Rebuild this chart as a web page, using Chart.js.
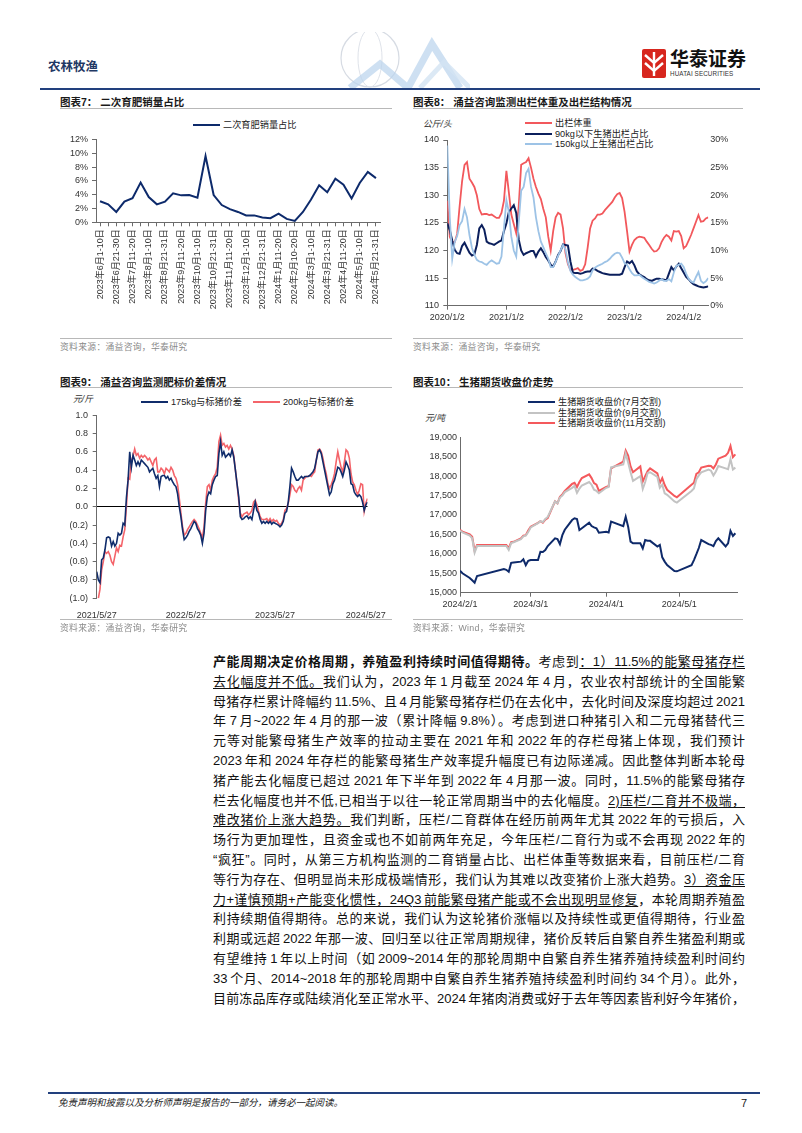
<!DOCTYPE html>
<html lang="zh-CN">
<head>
<meta charset="utf-8">
<title>农林牧渔</title>
<script src="https://cdn.jsdelivr.net/npm/chart.js@4.4.1/dist/chart.umd.min.js"></script>
<style>
  html, body { margin: 0; padding: 0; background: #fff; }
  #page { position: relative; width: 802px; height: 1133px; overflow: hidden;
          font-family: "Liberation Sans", "Noto Sans CJK SC", sans-serif; color: #1a1a1a; }
  .abs { position: absolute; white-space: nowrap; }
  .title { position: absolute; font-size: 10.5px; line-height: 12px; font-weight: 700; white-space: nowrap; }
  .rule { position: absolute; height: 1px; background: #b8b8b8; }
  .src { position: absolute; font-size: 8.8px; line-height: 10px; color: #8a8a8a; white-space: nowrap; letter-spacing: 0.3px; }
  .leg { position: absolute; font-size: 9.2px; line-height: 10px; white-space: nowrap; color: #222; }
  .leg i { display: inline-block; width: 27px; height: 2px; vertical-align: middle; margin: 0 3px 1px 0; }
  .unit { position: absolute; font-size: 8.8px; line-height: 10px; color: #333; white-space: nowrap; font-style: italic; }
  canvas { position: absolute; }
  #text { position: absolute; left: 213px; top: 652px; width: 532px; font-size: 13px; line-height: 19.8px;
          word-spacing: -1.5px; color: #111; }
  #text div { text-align: justify; text-align-last: justify; height: 19.8px; overflow: hidden; }
  #text u { text-decoration-thickness: 1px; text-underline-offset: 2px; }
</style>
</head>
<body>
<div id="page">
  <!-- 页眉 -->
  <svg class="abs" style="left:320px;top:32px" width="150" height="56">
    <circle cx="50" cy="26" r="29" fill="none" stroke="#d6dbe3" stroke-width="1.2"/>
    <ellipse cx="50" cy="26" rx="12" ry="29" fill="none" stroke="#dfe3ea" stroke-width="1"/>
    <polyline points="30,56 60,32 88,56 112,12 140,56" fill="none" stroke="#b9d3ec" stroke-width="7" opacity="0.7"/>
    <polyline points="100,56 124,30 150,56" fill="none" stroke="#d3e3f3" stroke-width="5" opacity="0.8"/>
  </svg>
  <div class="abs" style="left:48px;top:59px;font-size:12.5px;line-height:16px;font-weight:700;color:#1f3864">农林牧渔</div>
  <svg class="abs" style="left:642px;top:49px" width="24" height="29">
    <rect x="0" y="0" width="24" height="29" rx="2" fill="#d7261e"/>
    <path d="M3 6 L12 14 L21 6 M3 14 L12 22 L21 14" stroke="#fff" stroke-width="2.4" fill="none"/>
    <rect x="10.8" y="3" width="2.4" height="24" fill="#fff"/>
  </svg>
  <div class="abs" style="left:670px;top:47px;font-size:19px;line-height:22px;font-weight:700;color:#111;font-family:'Noto Sans CJK SC'">华泰证券</div>
  <div class="abs" style="left:670px;top:70px;font-size:6.3px;line-height:8px;color:#333;letter-spacing:0.1px">HUATAI SECURITIES</div>
  <div class="abs" style="left:40px;top:87.5px;width:720px;height:2px;background:#22407e"></div>

  <!-- 图表7 -->
  <div class="title" style="left:60px;top:95.7px">图表7：&nbsp;二次育肥销量占比</div>
  <div class="rule" style="left:60px;top:108px;width:332px"></div>
  <div class="leg" style="left:193px;top:120px"><i style="background:#0d2a6b"></i>二次育肥销量占比</div>
  <canvas id="c7" width="340" height="190" style="left:50px;top:130px"></canvas>
  <div class="rule" style="left:60px;top:338px;width:332px"></div>
  <div class="src" style="left:60px;top:341.7px">资料来源：涌益咨询，华泰研究</div>

  <!-- 图表8 -->
  <div class="title" style="left:413px;top:95.7px">图表8：&nbsp;涌益咨询监测出栏体重及出栏结构情况</div>
  <div class="rule" style="left:413px;top:108px;width:330px"></div>
  <div class="unit" style="left:423px;top:119px">公斤/头</div>
  <div class="leg" style="left:525px;top:118px"><i style="background:#f2585c"></i>出栏体重</div>
  <div class="leg" style="left:525px;top:128.5px"><i style="background:#0b1f5c"></i>90kg以下生猪出栏占比</div>
  <div class="leg" style="left:525px;top:139px"><i style="background:#9dc3e6"></i>150kg以上生猪出栏占比</div>
  <canvas id="c8" width="345" height="200" style="left:400px;top:130px"></canvas>
  <div class="rule" style="left:413px;top:338px;width:330px"></div>
  <div class="src" style="left:413px;top:341.7px">资料来源：涌益咨询，华泰研究</div>

  <!-- 图表9 -->
  <div class="title" style="left:60px;top:375.7px">图表9：&nbsp;涌益咨询监测肥标价差情况</div>
  <div class="rule" style="left:60px;top:387px;width:332px"></div>
  <div class="unit" style="left:73px;top:394px">元/斤</div>
  <div class="leg" style="left:141px;top:396.7px"><i style="background:#102c6b"></i>175kg与标猪价差</div>
  <div class="leg" style="left:253px;top:396.7px"><i style="background:#f4646a"></i>200kg与标猪价差</div>
  <canvas id="c9" width="340" height="215" style="left:50px;top:405px"></canvas>
  <div class="rule" style="left:60px;top:619px;width:332px"></div>
  <div class="src" style="left:60px;top:623px">资料来源：涌益咨询，华泰研究</div>

  <!-- 图表10 -->
  <div class="title" style="left:413px;top:375.7px">图表10：&nbsp;生猪期货收盘价走势</div>
  <div class="rule" style="left:413px;top:387px;width:330px"></div>
  <div class="leg" style="left:528px;top:397px"><i style="background:#0e2a6a"></i>生猪期货收盘价(7月交割)</div>
  <div class="leg" style="left:528px;top:407.7px"><i style="background:#c3c3c3"></i>生猪期货收盘价(9月交割)</div>
  <div class="leg" style="left:528px;top:418.3px"><i style="background:#f4595c"></i>生猪期货收盘价(11月交割)</div>
  <div class="unit" style="left:425px;top:413px">元/吨</div>
  <canvas id="c10" width="340" height="190" style="left:405px;top:428px"></canvas>
  <div class="rule" style="left:413px;top:619px;width:330px"></div>
  <div class="src" style="left:413px;top:623px">资料来源：Wind，华泰研究</div>

  <!-- 正文 -->
  <div id="text">
    <div><b>产能周期决定价格周期，养殖盈利持续时间值得期待。</b>考虑到<u>：1）11.5%的能繁母猪存栏</u></div>
    <div><u>去化幅度并不低。</u>我们认为，2023 年 1 月截至 2024 年 4 月，农业农村部统计的全国能繁</div>
    <div>母猪存栏累计降幅约 11.5%、且 4 月能繁母猪存栏仍在去化中，去化时间及深度均超过 2021</div>
    <div>年 7 月~2022 年 4 月的那一波（累计降幅 9.8%）。考虑到进口种猪引入和二元母猪替代三</div>
    <div>元等对能繁母猪生产效率的拉动主要在 2021 年和 2022 年的存栏母猪上体现，我们预计</div>
    <div>2023 年和 2024 年存栏的能繁母猪生产效率提升幅度已有边际递减。因此整体判断本轮母</div>
    <div>猪产能去化幅度已超过 2021 年下半年到 2022 年 4 月那一波。同时，11.5%的能繁母猪存</div>
    <div>栏去化幅度也并不低,已相当于以往一轮正常周期当中的去化幅度。<u>2)压栏/二育并不极端，</u></div>
    <div><u>难改猪价上涨大趋势。</u>我们判断，压栏/二育群体在经历前两年尤其 2022 年的亏损后，入</div>
    <div>场行为更加理性，且资金或也不如前两年充足，今年压栏/二育行为或不会再现 2022 年的</div>
    <div>“疯狂”。同时，从第三方机构监测的二育销量占比、出栏体重等数据来看，目前压栏/二育</div>
    <div>等行为存在、但明显尚未形成极端情形，我们认为其难以改变猪价上涨大趋势。<u>3）资金压</u></div>
    <div><u>力+谨慎预期+产能变化惯性，24Q3 前能繁母猪产能或不会出现明显修复</u>，本轮周期养殖盈</div>
    <div>利持续期值得期待。总的来说，我们认为这轮猪价涨幅以及持续性或更值得期待，行业盈</div>
    <div>利期或远超 2022 年那一波、回归至以往正常周期规律，猪价反转后自繁自养生猪盈利期或</div>
    <div>有望维持 1 年以上时间（如 2009~2014 年的那轮周期中自繁自养生猪养殖持续盈利时间约</div>
    <div>33 个月、2014~2018 年的那轮周期中自繁自养生猪养殖持续盈利时间约 34 个月）。此外，</div>
    <div>目前冻品库存或陆续消化至正常水平、2024 年猪肉消费或好于去年等因素皆利好今年猪价，</div>
  </div>

  <!-- 页脚 -->
  <div class="abs" style="left:48px;top:1092px;width:712px;height:2px;background:#22407e"></div>
  <div class="abs" style="left:58px;top:1097px;font-size:9.5px;line-height:12px;font-style:italic;color:#222">免责声明和披露以及分析师声明是报告的一部分，请务必一起阅读。</div>
  <div class="abs" style="left:741px;top:1096px;font-size:11px;line-height:14px;color:#222">7</div>
</div>

<script>
// 图表7：二次育肥销量占比（每旬）
const periods7 = ['2023年6月1-10日', '2023年6月11-20日', '2023年6月21-30日', '2023年7月1-10日', '2023年7月11-20日',
  '2023年7月21-31日', '2023年8月1-10日', '2023年8月11-20日', '2023年8月21-31日', '2023年9月1-10日', '2023年9月11-20日',
  '2023年9月21-30日', '2023年10月1-10日', '2023年10月11-20日', '2023年10月21-31日', '2023年11月1-10日', '2023年11月11-20日',
  '2023年11月21-30日', '2023年12月1-10日', '2023年12月11-20日', '2023年12月21-31日', '2024年1月1-10日', '2024年1月11-20日',
  '2024年1月21-31日', '2024年2月10-20日', '2024年2月21-29日', '2024年3月1-10日', '2024年3月11-20日', '2024年3月21-31日',
  '2024年4月1-10日', '2024年4月11-20日', '2024年4月21-30日', '2024年5月1-10日', '2024年5月11-20日', '2024年5月21-31日'];
const share7 = [3.05, 2.6, 1.5, 3.0, 3.5, 5.75, 3.65, 2.6, 3.0, 4.2, 3.9, 3.95, 3.55, 9.6, 3.95, 2.5, 1.9, 1.5, 1.0, 1.0,
  0.7, 0.6, 1.25, 0.5, 0.2, 1.5, 3.3, 5.35, 4.35, 6.3, 5.45, 3.45, 5.7, 7.3, 6.4];

// 图表8：出栏体重(公斤/头)与出栏结构(%)，半月取样，自2020/1/2起
const yearTicks8 = ['2020/1/2', '2021/1/2', '2022/1/2', '2023/1/2', '2024/1/2'];
const weight8 = [129, 122.5, 121.5, 121.5, 123, 128, 132.5, 135.5, 136, 133,
  132.3, 131.5, 130, 127.5, 126.5, 126.6, 126.6, 126.4, 126.5, 126.2,
  125.9, 125.9, 126.8, 129, 134.4, 130.5, 126.5, 124.8, 123.1, 128,
  135.5, 135.8, 136, 136.7, 135, 133, 131.5, 130.3, 129.3, 127.5,
  126, 122.5, 120, 123.5, 126, 126.8, 126.5, 124, 119.5, 117.5,
  116.5, 116.5, 116.6, 116.8, 116.3, 116.5, 117.5, 120.5, 124, 125.4,
  125.8, 126.5, 126.5, 126.7, 127.3, 127.8, 128.3, 128.8, 129.6, 130.2,
  130.4, 129.5, 127, 123.5, 119.8, 121, 121.9, 122.3, 122.5, 122.4,
  122.3, 121.6, 121, 120.3, 119.8, 119.9, 120.4, 121.5, 122.3, 122.8,
  122.5, 121.8, 123.5, 123.4, 123.5, 122.6, 120.4, 120.8, 121.8, 122.8,
  124, 125.2, 126.4, 125.2, 125.3, 125.8, 126];
const below90 = [14.9, 13.7, 11.8, 10.1, 9.5, 9.4, 10.8, 11.4, 10.5, 9.6,
  9.1, 9.3, 11, 14, 14.6, 13.8, 11.6, 11.3, 11.2, 11.0,
  11.3, 11.6, 11.8, 13.5, 14.9, 17, 17.6, 18.2, 16.8, 12,
  10, 9.2, 9.5, 9.7, 9.9, 9.9, 8.9, 9.8, 10.4, 9.7,
  8.8, 8.2, 7.4, 7.1, 8.0, 9.2, 9.9, 11.1, 11.0, 10.9,
  8.0, 6.0, 5.9, 5.9, 5.8, 5.9, 6.1, 6.2, 6.2, 6.7,
  6.6, 6.3, 6.1, 5.9, 5.8, 5.7, 5.6, 5.6, 5.6, 5.6,
  5.6, 5.8, 7.0, 8.0, 7.7, 8.1, 7.3, 6.2, 5.7, 5.4,
  5.2, 4.8, 4.6, 4.5, 4.7, 4.9, 4.9, 4.8, 4.7, 4.6,
  5.8, 7.0, 6.4, 7.1, 7.6, 6.8, 6.0, 5.2, 4.8, 4.3,
  3.9, 3.7, 3.5, 3.4, 3.3, 3.4, 3.5];
const above150 = [29, 16, 8.5, 11.5, 12.6, 14.6, 15.3, 17.5, 16, 12.8,
  10.5, 9.2, 8.3, 8.0, 7.9, 7.6, 7.4, 7.9, 8.2, 7.9,
  7.6, 7.7, 8.9, 14, 19.1, 17, 12.5, 10, 8.9, 15,
  20.8, 21.5, 24, 24.8, 21.5, 19.6, 16, 13.5, 11.6, 10.6,
  9.5, 8.5, 7.0, 7.0, 8.0, 9.0, 10.0, 11.0, 10.2, 7.8,
  6.3, 5.6, 5.2, 4.9, 4.6, 4.6, 4.7, 4.9, 5.3, 6.4,
  6.9, 7.2, 7.4, 7.6, 7.9, 8.1, 8.5, 9.0, 9.4, 9.6,
  9.5, 8.7, 7.7, 7.4, 6.6, 5.9, 5.5, 5.5, 5.6, 5.2,
  4.9, 4.6, 4.3, 4.2, 4.0, 4.2, 4.5, 4.8, 4.5, 4.5,
  4.8, 4.4, 6.0, 7.2, 7.4, 7.6, 7.0, 5.8, 4.9, 4.4,
  4.2, 5.2, 6.1, 4.5, 4.1, 4.4, 5.0];

// 图表9：肥标价差(元/斤)，周度，自2021/5/27起
const dateTicks9 = ['2021/5/27', '2022/5/27', '2023/5/27', '2024/5/27'];
const spread175 = [-0.71, -0.80, -0.83, -0.58, -0.56, -0.47, -0.34, -0.33, -0.34, -0.43,
  -0.38, -0.43, -0.40, -0.29, -0.31, -0.29, -0.18, -0.20, 0.10, 0.29,
  0.60, 0.43, 0.56, 0.51, 0.45, 0.49, 0.45, 0.51, 0.49, 0.47,
  0.45, 0.43, 0.38, 0.40, 0.42, 0.36, 0.31, 0.34, 0.22, 0.33,
  0.34, 0.34, 0.31, 0.33, 0.29, 0.31, 0.27, 0.24, 0.22, 0.14,
  0.00, -0.11, -0.25, -0.36, -0.34, -0.31, -0.27, -0.24, -0.20, -0.16,
  -0.18, -0.24, -0.27, -0.31, -0.40, -0.29, -0.04, 0.11, 0.16, 0.14,
  0.24, 0.29, 0.33, 0.34, 0.58, 0.71, 0.56, 0.60, 0.54, 0.56,
  0.58, 0.55, 0.62, 0.54, 0.40, 0.25, 0.11, -0.11, -0.14, -0.13,
  -0.11, -0.10, -0.13, -0.11, -0.14, -0.04, 0.05, -0.04, -0.07, -0.14,
  -0.18, -0.16, -0.18, -0.16, -0.18, -0.16, -0.19, -0.17, -0.18, -0.19,
  -0.20, -0.22, -0.20, -0.16, -0.07, -0.05, 0.05, 0.22, 0.42, 0.38,
  0.33, 0.29, 0.29, 0.31, 0.33, 0.31, 0.33, 0.33, 0.33, 0.34,
  0.36, 0.38, 0.42, 0.51, 0.60, 0.62, 0.58, 0.49, 0.40, 0.31,
  0.22, 0.13, 0.16, 0.25, 0.29, 0.36, 0.43, 0.42, 0.38, 0.33,
  0.40, 0.49, 0.45, 0.40, 0.25, 0.24, 0.16, 0.13, 0.11, 0.13,
  0.11, 0.05, -0.04, 0.02, 0.05];
const spread200 = [null, -1.00, -0.90, -0.69, -0.60, -0.49, -0.51, -0.49, -0.53, -0.60,
  -0.63, -0.54, -0.45, -0.49, -0.42, -0.43, -0.33, -0.25, 0.00, 0.31,
  0.30, 0.50, 0.55, 0.63, 0.56, 0.58, 0.53, 0.56, 0.54, 0.56,
  0.54, 0.51, 0.53, 0.49, 0.45, 0.51, 0.53, 0.38, 0.38, 0.42,
  0.40, 0.36, 0.42, 0.40, 0.38, 0.43, 0.40, 0.34, 0.31, 0.24,
  0.09, -0.07, -0.22, -0.31, -0.29, -0.25, -0.22, -0.19, -0.16, -0.14,
  -0.16, -0.20, -0.24, -0.29, -0.34, -0.22, 0.04, 0.22, 0.24, 0.18,
  0.29, 0.33, 0.36, 0.43, 0.71, 0.78, 0.67, 0.69, 0.65, 0.67,
  0.63, 0.67, 0.63, 0.56, 0.40, 0.25, 0.07, -0.07, -0.11, -0.08,
  -0.07, -0.06, -0.09, -0.07, -0.04, 0.05, 0.07, 0.02, -0.05, -0.11,
  -0.14, -0.14, -0.14, -0.13, -0.16, -0.13, -0.16, -0.14, -0.16, -0.15,
  -0.18, -0.20, -0.18, -0.14, -0.04, -0.02, 0.04, 0.13, 0.24, 0.22,
  0.18, 0.16, 0.20, 0.22, 0.18, 0.29, 0.31, 0.33, 0.33, 0.34,
  0.33, 0.36, 0.38, 0.51, 0.62, 0.63, 0.60, 0.53, 0.43, 0.36,
  0.25, 0.20, 0.24, 0.29, 0.36, 0.49, 0.60, 0.51, 0.43, 0.38,
  0.49, 0.62, 0.60, 0.53, 0.36, 0.27, 0.24, 0.18, 0.13, 0.18,
  0.25, 0.24, -0.05, 0.04, 0.09];
const weekTickAt9 = [0, 54, 108, 163];

// 图表10：生猪期货收盘价(元/吨)，交易日
const tradeDates10 = ['2024-02-01', '2024-02-02', '2024-02-05', '2024-02-06', '2024-02-07', '2024-02-08', '2024-02-19',
  '2024-02-20', '2024-02-21', '2024-02-22', '2024-02-23', '2024-02-26', '2024-02-27', '2024-02-28', '2024-02-29',
  '2024-03-01', '2024-03-04', '2024-03-05', '2024-03-06', '2024-03-07', '2024-03-08', '2024-03-11', '2024-03-12',
  '2024-03-13', '2024-03-14', '2024-03-15', '2024-03-18', '2024-03-19', '2024-03-20', '2024-03-21', '2024-03-22',
  '2024-03-25', '2024-03-26', '2024-03-27', '2024-03-28', '2024-03-29',
  '2024-04-01', '2024-04-02', '2024-04-03', '2024-04-08', '2024-04-09', '2024-04-10', '2024-04-11', '2024-04-12',
  '2024-04-15', '2024-04-16', '2024-04-17', '2024-04-18', '2024-04-19', '2024-04-22', '2024-04-23', '2024-04-24',
  '2024-04-25', '2024-04-26', '2024-04-29', '2024-04-30',
  '2024-05-06', '2024-05-07', '2024-05-08', '2024-05-09', '2024-05-10', '2024-05-13', '2024-05-14', '2024-05-15',
  '2024-05-16', '2024-05-17', '2024-05-20', '2024-05-21', '2024-05-22', '2024-05-23', '2024-05-24'];
const lh2407 = [15565, 15500, 15380, 15320, 15260, 15430, 15610, 15590, 15540, 15770, 15780, 15800, 15860, 15710, 15820,
  15840, 15840, 16055, 16050, 16100, 16200, 16400, 16380, 16250, 16480, 16620, 16870, 16915, 16895, 16615, 16660,
  16800, 16715, 16680, 16660, 16545,
  16570, 16550, 16830, 16715, 16955, 16700, 16315, 16270, 16270, 16140, 16355, 16340, 16335, 16190, 16230, 15910,
  15800, 15710, 15560, 15550,
  15710, 15840, 15990, 16150, 16355, 16250, 16230, 16200, 16330, 16400, 16190, 16270, 16590, 16460, 16530];
const lh2409 = [16600, 16550, 16470, 16400, 16030, 16200, 16200, 16200, 16100, 16280, 16300, 16380, 16450, 16470, 16560,
  16680, 16790, 16840, 16820, 16900, 16950, 17350, 17300, 17450, 17500, 17590, 17700, 17750, 17570, 17680, 17760,
  17850, 17780, 17650, 17620, 17560,
  17700, 17720, 18230, 18300, 18580, 18350, 18100, 17880, 18000, 17670, 17850, 18080, 18100, 17980, 17700, 17780,
  17560, 17520, 17350, 17320,
  17620, 17680, 17920, 18020, 18100, 18170, 18140, 18020, 18120, 18260, 18200, 18180, 18440, 18170, 18220];
const lh2411 = [16620, 16570, 16500, 16440, 16080, 16230, 16230, 16230, 16150, 16300, 16310, 16400, 16470, 16480, 16600,
  16700, 16800, 16840, 16800, 16880, 16920, 17350, 17300, 17470, 17530, 17620, 17800, 17830, 17720, 17850, 17950,
  18045, 17950, 17820, 17780, 17620,
  17720, 17740, 18200, 18375, 18660, 18530, 18250, 18100, 18250, 17860, 18000, 18130, 18200, 18070, 17820, 17950,
  17770, 17650, 17490, 17455,
  17780, 17830, 18060, 18100, 18220, 18270, 18260, 18200, 18300, 18450, 18530, 18600, 18780, 18490, 18560];
const monthTicks10 = ['2024/2/1', '2024/3/1', '2024/4/1', '2024/5/1'];

// 公共样式
Chart.defaults.font.family = "'Liberation Sans', 'Noto Sans CJK SC', sans-serif";
Chart.defaults.color = '#333';
Chart.defaults.animation = false;
const axisColor = '#6b6b6b';
const tickFont = { size: 9 };
const fixWidth = w => s => { s.width = w; };
const fixHeight = h => s => { s.height = h; };
const noPlugins = { legend: { display: false }, tooltip: { enabled: false } };
const asLine = (data, color, width, axis) => ({
  data, borderColor: color, borderWidth: width, pointRadius: 0, tension: 0, yAxisID: axis || 'y', spanGaps: false
});

// 图表7
new Chart(document.getElementById('c7'), {
  type: 'line',
  data: { labels: periods7, datasets: [asLine(share7, '#0d2a6b', 2)] },
  options: {
    responsive: false,
    layout: { padding: { top: 8.3, right: 10, left: 0, bottom: 0 } },
    plugins: noPlugins,
    scales: {
      x: {
        offset: true,
        grid: { offset: false, drawOnChartArea: false, tickLength: 4, color: axisColor },
        border: { color: axisColor },
        ticks: { autoSkip: false, minRotation: 90, maxRotation: 90, padding: 3, font: { size: 9 },
                 callback: (v, i) => (i % 2 === 0 ? periods7[i] : '') },
        afterFit: fixHeight(97.7)
      },
      y: {
        min: 0, max: 12,
        ticks: { stepSize: 2, padding: 4, font: tickFont, callback: v => v + '%' },
        grid: { drawOnChartArea: false, tickLength: 4, color: axisColor },
        border: { color: axisColor },
        afterFit: fixWidth(46)
      }
    }
  }
});

// 图表8
const halfMonths = weight8.map((v, i) => i);
const yearTickAt8 = [0, 24, 48, 72, 96];
new Chart(document.getElementById('c8'), {
  type: 'line',
  data: {
    datasets: [
      asLine(halfMonths.map(i => ({ x: i, y: above150[i] })), '#9dc3e6', 1.8, 'y2'),
      asLine(halfMonths.map(i => ({ x: i, y: below90[i] })), '#0b1f5c', 2, 'y2'),
      asLine(halfMonths.map(i => ({ x: i, y: weight8[i] })), '#f2585c', 1.8, 'y')
    ]
  },
  options: {
    responsive: false,
    layout: { padding: { top: 10, right: 0, left: 0, bottom: 0 } },
    plugins: noPlugins,
    scales: {
      x: {
        type: 'linear', min: 0, max: 106,
        afterBuildTicks: s => { s.ticks = yearTickAt8.map(v => ({ value: v })); },
        ticks: { padding: 2, maxRotation: 0, font: tickFont, callback: (v, i) => yearTicks8[i] },
        grid: { drawOnChartArea: false, tickLength: 4, color: axisColor },
        border: { color: axisColor },
        afterFit: fixHeight(24.3)
      },
      y: {
        position: 'left', min: 110, max: 140,
        ticks: { stepSize: 5, padding: 4.3, font: tickFont },
        grid: { drawOnChartArea: false, tickLength: 4, color: axisColor },
        border: { color: axisColor },
        afterFit: fixWidth(47.3)
      },
      y2: {
        position: 'right', min: 0, max: 30,
        ticks: { stepSize: 5, padding: 2, font: tickFont, callback: v => v + '%' },
        grid: { drawOnChartArea: false, drawTicks: false },
        border: { display: false },
        afterFit: fixWidth(36.7)
      }
    }
  }
});

// 图表9
const weeks9 = spread175.map((v, i) => i);
const fmtSpread = v => (Math.abs(v) < 1e-6 ? '0.0' : v < 0 ? '(' + Math.abs(v).toFixed(1) + ')' : v.toFixed(1));
new Chart(document.getElementById('c9'), {
  type: 'line',
  data: {
    datasets: [
      asLine(weeks9.map(i => ({ x: i, y: spread175[i] })), '#102c6b', 1.6),
      asLine(weeks9.map(i => ({ x: i, y: spread200[i] })), '#f4646a', 1.6)
    ]
  },
  options: {
    responsive: false,
    layout: { padding: { top: 9.3, right: 20, left: 0, bottom: 0 } },
    plugins: noPlugins,
    scales: {
      x: {
        type: 'linear', min: 0, max: 164,
        afterBuildTicks: s => { s.ticks = weekTickAt9.map(v => ({ value: v })); },
        ticks: { padding: 4, maxRotation: 0, font: tickFont, callback: (v, i) => dateTicks9[i] },
        grid: { display: false },
        border: { display: false },
        afterFit: fixHeight(21.7)
      },
      y: {
        min: -1, max: 1,
        ticks: { stepSize: 0.2, padding: 4.7, font: tickFont, callback: fmtSpread },
        grid: {
          drawOnChartArea: true, tickLength: 4, tickColor: axisColor,
          color: c => (Math.abs(c.tick.value) < 1e-6 ? '#000' : 'rgba(0,0,0,0)')
        },
        border: { color: axisColor },
        afterFit: fixWidth(46.7)
      }
    }
  }
});

// 图表10
const dayOf = s => (Date.parse(s) - Date.parse('2024-02-01')) / 86400000;
const days10 = tradeDates10.map(dayOf);
const monthTickAt10 = monthTicks10.map(s => dayOf(s.replace(/\//g, '-').replace(/-(\d)(?=-|$)/g, '-0$1')));
new Chart(document.getElementById('c10'), {
  type: 'line',
  data: {
    datasets: [
      asLine(days10.map((d, i) => ({ x: d, y: lh2409[i] })), '#c3c3c3', 2),
      asLine(days10.map((d, i) => ({ x: d, y: lh2411[i] })), '#f4595c', 2),
      asLine(days10.map((d, i) => ({ x: d, y: lh2407[i] })), '#0e2a6a', 2)
    ]
  },
  options: {
    responsive: false,
    layout: { padding: { top: 9.3, right: 7.2, left: 0, bottom: 0 } },
    plugins: noPlugins,
    scales: {
      x: {
        type: 'linear', min: 0, max: 114,
        afterBuildTicks: s => { s.ticks = monthTickAt10.map(v => ({ value: v })); },
        ticks: { padding: 2, maxRotation: 0, font: tickFont, callback: (v, i) => monthTicks10[i] },
        grid: { drawOnChartArea: false, tickLength: 4, color: axisColor },
        border: { color: axisColor },
        afterFit: fixHeight(25.3)
      },
      y: {
        min: 15000, max: 19000,
        ticks: { stepSize: 500, padding: 3, font: tickFont, callback: v => v.toLocaleString('en-US') },
        grid: { drawOnChartArea: false, drawTicks: false },
        border: { color: axisColor },
        afterFit: fixWidth(55)
      }
    }
  }
});
</script>
</body>
</html>
